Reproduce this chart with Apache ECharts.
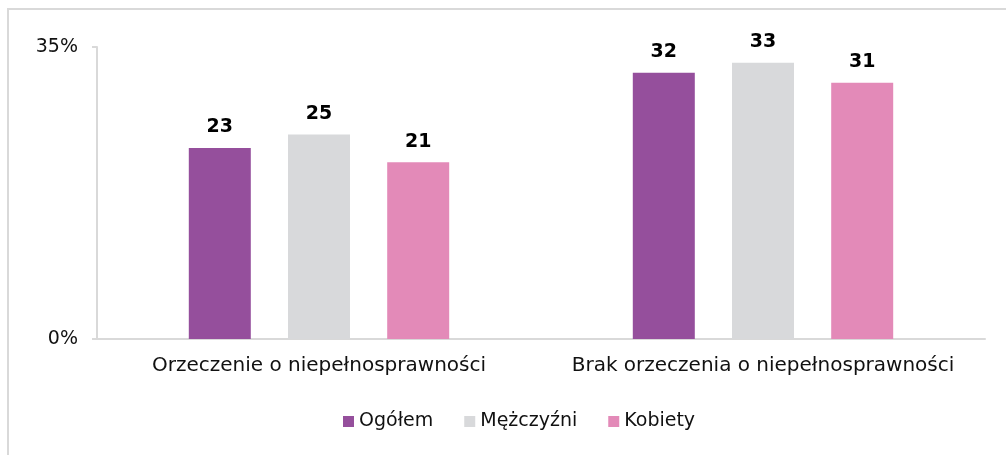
<!DOCTYPE html>
<html>
<head>
    <meta charset="UTF-8">
    <title>Orzeczenie o niepełnosprawności</title>
    <script src="https://cdn.jsdelivr.net/npm/echarts@6/dist/echarts.min.js"></script>
    <style>
        html, body { margin: 0; padding: 0; background: #fff; }
    </style>
</head>
<body>
    <div id="chart" style="width:1006px; height:455px;"></div>
    <script>
        var categories = ['Orzeczenie o niepełnosprawności', 'Brak orzeczenia o niepełnosprawności'];
        var seriesNames = ['Ogółem', 'Mężczyźni', 'Kobiety'];
        var ogolem = [22.9, 31.9];
        var mezczyzni = [24.5, 33.1];
        var kobiety = [21.2, 30.7];
        var yTicks = [0, 35];

        var colors = ['#954F9C', '#D8D9DB', '#E38AB8'];
        var font = 'DejaVu Sans';

        var chart = echarts.init(document.getElementById('chart'), null, {renderer: 'canvas'});

        function makeSeries(name, data, color) {
            return {
                name: name,
                type: 'bar',
                data: data,
                barWidth: 62,
                barGap: '60%',
                itemStyle: {color: color},
                label: {
                    show: true,
                    position: 'top',
                    distance: 11,
                    formatter: function (p) { return Math.round(p.value); },
                    fontFamily: font,
                    fontWeight: 'bold',
                    fontSize: 19,
                    color: '#000'
                }
            };
        }

        chart.setOption({
            animation: false,
            textStyle: {fontFamily: font},
            graphic: [{
                type: 'rect',
                shape: {x: 8, y: 9, width: 1100, height: 500},
                style: {fill: 'none', stroke: '#d9d9d9', lineWidth: 2},
                silent: true
            }],
            grid: {left: 97, right: 21, top: 47, bottom: 116},
            legend: {
                data: seriesNames,
                bottom: 19,
                left: 338,
                itemWidth: 11,
                itemHeight: 11,
                itemGap: 31,
                icon: 'rect',
                textStyle: {fontFamily: font, fontSize: 19, color: '#111'}
            },
            xAxis: {
                type: 'category',
                data: categories,
                axisLine: {lineStyle: {color: '#d9d9d9', width: 2}},
                axisTick: {show: false},
                axisLabel: {fontFamily: font, fontSize: 20, color: '#111', margin: 17, interval: 0}
            },
            yAxis: {
                type: 'value',
                min: yTicks[0],
                max: yTicks[1],
                interval: 35,
                axisLine: {show: true, lineStyle: {color: '#d9d9d9', width: 2}},
                axisTick: {show: true, length: 5, lineStyle: {color: '#d9d9d9', width: 2}},
                splitLine: {show: false},
                axisLabel: {
                    fontFamily: font, fontSize: 19, color: '#111', margin: 19,
                    formatter: function (v) { return v + '%'; }
                }
            },
            series: [
                makeSeries(seriesNames[0], ogolem, colors[0]),
                makeSeries(seriesNames[1], mezczyzni, colors[1]),
                makeSeries(seriesNames[2], kobiety, colors[2])
            ]
        });
    </script>
</body>
</html>
